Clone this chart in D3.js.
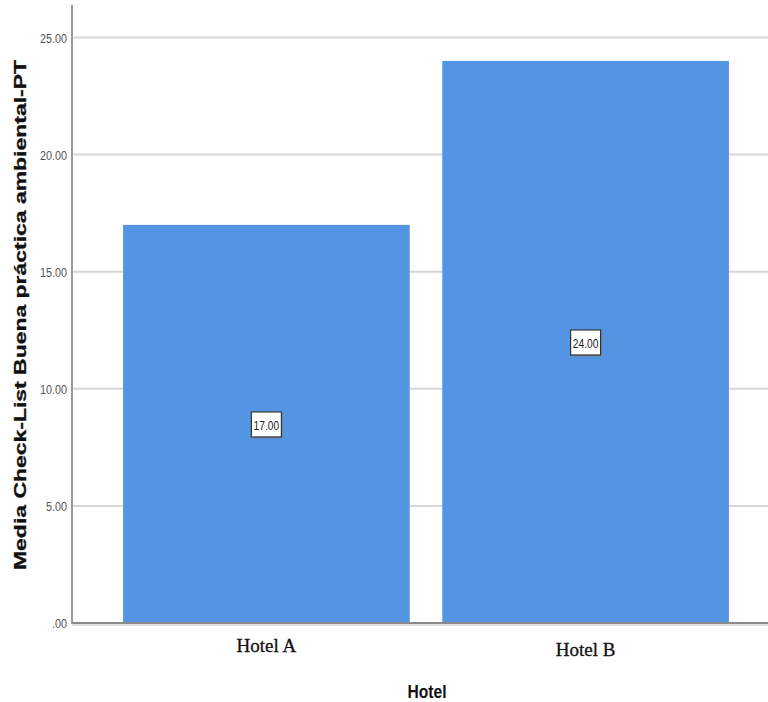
<!DOCTYPE html>
<html><head><meta charset="utf-8">
<script src="https://cdn.jsdelivr.net/npm/d3@7"></script>
<style>html,body{margin:0;padding:0;background:#fff;}svg{display:block;}</style>
</head><body>
<svg id="chart" width="768" height="702"></svg>
<script>
const categories = ["Hotel A", "Hotel B"];
const values = [17.00, 24.00];
const yTicks = [0, 5, 10, 15, 20, 25];
const yTickLabels = [".00", "5.00", "10.00", "15.00", "20.00", "25.00"];
const yTitle = "Media Check-List Buena práctica ambiental-PT";
const xTitle = "Hotel";

const svg = d3.select("#chart");
const x0 = 72, xEnd = 768, yBase = 623;

const x = d3.scaleBand().domain(categories).range([x0, 780]).paddingInner(0.102).paddingOuter(0.16);
const y = d3.scaleLinear().domain([0, 25]).range([yBase, 37.5]);

// gridlines
svg.append("g").selectAll("line").data(yTicks.filter(d => d > 0)).join("line")
  .attr("x1", x0).attr("x2", xEnd).attr("y1", d => y(d)).attr("y2", d => y(d))
  .attr("stroke", "#d6d6d6").attr("stroke-width", 2);

// bars
svg.append("g").selectAll("rect").data(values).join("rect")
  .attr("x", (d, i) => x(categories[i])).attr("width", x.bandwidth())
  .attr("y", d => y(d)).attr("height", d => yBase - y(d))
  .attr("fill", "#5495e3");

// axes lines
svg.append("line").attr("x1", x0).attr("x2", x0).attr("y1", 5).attr("y2", yBase + 1)
  .attr("stroke", "#9a9a9a").attr("stroke-width", 2);
svg.append("line").attr("x1", x0).attr("x2", xEnd).attr("y1", yBase).attr("y2", yBase)
  .attr("stroke", "#8a8a8a").attr("stroke-width", 2);
svg.append("line").attr("x1", x0).attr("x2", xEnd).attr("y1", yBase + 2).attr("y2", yBase + 2)
  .attr("stroke", "#d8d8d8").attr("stroke-width", 1.5);

// y tick labels
const yAxis = d3.axisLeft(y).tickValues(yTicks).tickSize(0).tickPadding(0)
  .tickFormat((d, i) => yTickLabels[i]);
const yg = svg.append("g").attr("transform", `translate(${x0 - 5},0)`).call(yAxis);
yg.select(".domain").remove();
yg.selectAll("text")
  .attr("font-family", "Liberation Sans, Arial, sans-serif").attr("font-size", 13.5)
  .attr("fill", "#555").attr("x", 0)
  .attr("transform", "scale(0.8,1)")
  .attr("dy", "0.35em");

// x tick labels
const xAxis = d3.axisBottom(x).tickSize(0).tickPadding(0);
const xg = svg.append("g").attr("transform", `translate(0,${yBase})`).call(xAxis);
xg.select(".domain").remove();
xg.selectAll("text")
  .attr("font-family", "Liberation Serif, Times New Roman, serif").attr("font-size", 19)
  .attr("fill", "#111").attr("stroke", "#111").attr("stroke-width", 0.3)
  .attr("y", (d, i) => i === 0 ? 16 : 20).attr("dy", "0.71em");

// value labels
const lab = svg.append("g").selectAll("g").data(values).join("g")
  .attr("transform", (d, i) => `translate(${x(categories[i]) + x.bandwidth() / 2},${(y(d) + yBase) / 2})`);
lab.append("rect").attr("x", -15).attr("y", -12).attr("width", 31).attr("height", 26)
  .attr("fill", "#7a8799").attr("opacity", 0.6).attr("transform", "translate(1,1)");
lab.append("rect").attr("x", -15).attr("y", -12).attr("width", 30).attr("height", 25)
  .attr("fill", "#fff").attr("stroke", "#333").attr("stroke-width", 1.2);
lab.append("text").text(d => d.toFixed(2))
  .attr("text-anchor", "middle").attr("y", 1).attr("dy", "0.36em")
  .attr("font-family", "Liberation Sans, Arial, sans-serif").attr("font-size", 13.5)
  .attr("fill", "#222").attr("transform", "scale(0.76,1)");

// y title
svg.append("text").text(yTitle)
  .attr("transform", "translate(26,315) rotate(-90)")
  .attr("text-anchor", "middle")
  .attr("font-family", "Liberation Sans, Arial, sans-serif").attr("font-weight", "bold")
  .attr("font-size", 16.5).attr("fill", "#111")
  .attr("stroke", "#111").attr("stroke-width", 0.3)
  .attr("textLength", 510).attr("lengthAdjust", "spacingAndGlyphs");

// x title
svg.append("text").text(xTitle)
  .attr("x", 427).attr("y", 698).attr("text-anchor", "middle")
  .attr("font-family", "Liberation Sans, Arial, sans-serif").attr("font-weight", "bold")
  .attr("font-size", 19).attr("fill", "#111")
  .attr("textLength", 39).attr("lengthAdjust", "spacingAndGlyphs");
</script>
</body></html>
